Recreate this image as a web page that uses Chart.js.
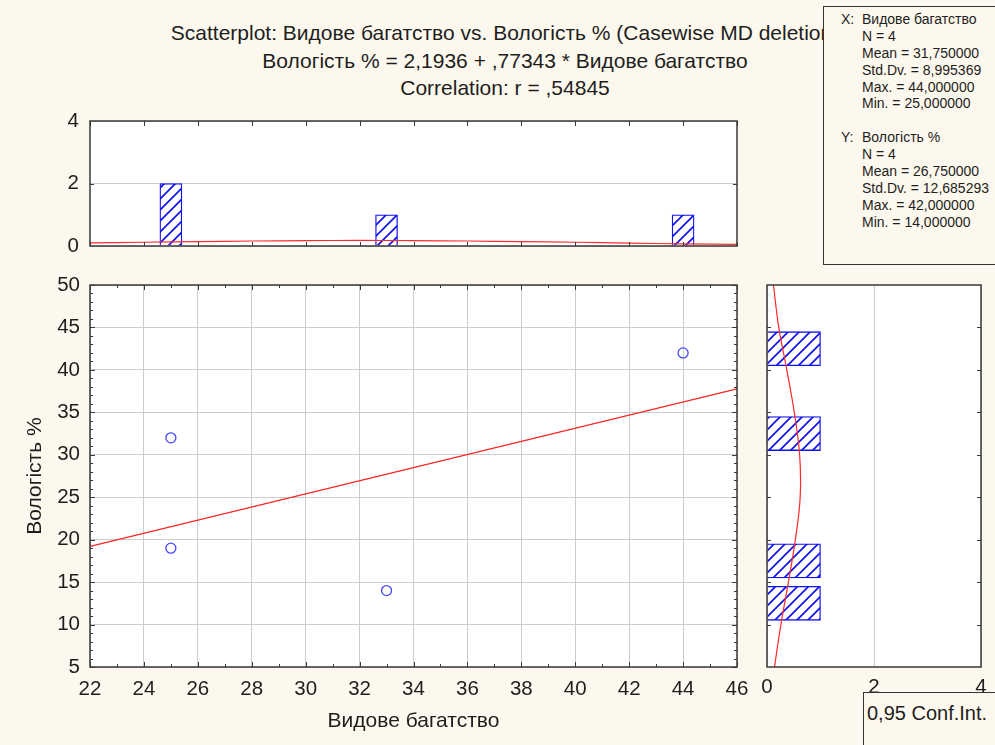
<!DOCTYPE html>
<html>
<head>
<meta charset="utf-8">
<script src="https://cdn.jsdelivr.net/npm/chart.js@4.4.1/dist/chart.umd.min.js"></script>
<style>
  html, body { margin: 0; padding: 0; width: 995px; height: 745px; overflow: hidden; background: #FCF8ED;
    font-family: "Liberation Sans", Arial, sans-serif; color: #1e1e1e; }
  canvas, .abs { position: absolute; }
  #title { left: 105px; width: 800px; top: 19px; text-align: center; font-size: 21px; line-height: 27.5px; white-space: nowrap; }
  #stats { left: 823px; top: 6px; width: 190px; height: 259px; border: 1px solid #333; background: #FCF8ED;
    font-size: 14px; line-height: 16.9px; padding-top: 4px; box-sizing: border-box; white-space: nowrap; }
  #stats .row { position: relative; height: 16.9px; padding-left: 38px; }
  #stats .k { position: absolute; left: 17px; }
  #ci { left: 863px; top: 692px; width: 160px; height: 80px; border: 1px solid #333; background: #FCF8ED;
    font-size: 20px; padding: 9px 0 0 3px; box-sizing: border-box; white-space: nowrap; }
</style>
</head>
<body>
<canvas id="top" width="760" height="150" style="left:0;top:106px"></canvas>
<canvas id="main" width="760" height="475" style="left:0;top:270px"></canvas>
<canvas id="side" width="255" height="475" style="left:740px;top:270px"></canvas>
<div id="title" class="abs"></div>
<div id="stats" class="abs"></div>
<div id="ci" class="abs">0,95 Conf.Int.</div>
<script>
// Raw observations
const speciesRichness = [25, 25, 33, 44];   // Видове багатство
const moisture = [32, 19, 14, 42];          // Вологість %

// Fitted line as stated in the subtitle
const intercept = 2.1936;
const slope = 0.77343;

// Marginal histogram of X (bin width 1)
const xBinCenters = [25, 33, 44];
const xBinCounts = [2, 1, 1];
// Marginal histogram of Y (bin width 5)
const yBinCenters = [12.5, 17.5, 32.5, 42.5];
const yBinCounts = [1, 1, 1, 1];

// Expected-count curves over the histograms
const xCurveAt = [22, 24, 26, 28, 30, 32, 34, 36, 38, 40, 42, 44, 46];
const xCurveCount = [0.10, 0.12, 0.14, 0.16, 0.17, 0.18, 0.17, 0.16, 0.14, 0.12, 0.09, 0.07, 0.05];
const yCurveAt = [5, 10, 15, 20, 25, 30, 35, 40, 45, 50];
const yCurveCount = [0.14, 0.26, 0.40, 0.53, 0.62, 0.61, 0.51, 0.37, 0.22, 0.12];

// Axis ranges / tick steps
const xRange = [22, 46], xStep = 2;
const yRange = [5, 50], yStep = 5;
const xHistRange = [0, 4], histStep = 2;

// Text blocks
const titleLines = [
  'Scatterplot: Видове багатство vs. Вологість % (Casewise MD deletion)',
  'Вологість % = 2,1936 + ,77343 * Видове багатство',
  'Correlation: r = ,54845'
];
const xLabel = 'Видове багатство';
const yLabel = 'Вологість %';
const statsX = ['N = 4', 'Mean = 31,750000', 'Std.Dv. = 8,995369', 'Max. = 44,000000', 'Min. = 25,000000'];
const statsY = ['N = 4', 'Mean = 26,750000', 'Std.Dv. = 12,685293', 'Max. = 42,000000', 'Min. = 14,000000'];

// ---- text blocks ----
document.getElementById('title').innerHTML = titleLines.map(t => '<div>' + t + '</div>').join('');
(function () {
  const box = document.getElementById('stats');
  const row = (k, v) => '<div class="row">' + (k ? '<span class="k">' + k + '</span>' : '') + v + '</div>';
  let html = row('X:', xLabel);
  statsX.forEach(s => html += row('', s));
  html += row('', '');
  html += row('Y:', yLabel);
  statsY.forEach(s => html += row('', s));
  box.innerHTML = html;
})();

// ---- chart defaults ----
Chart.defaults.font.family = '"Liberation Sans", Arial, sans-serif';
Chart.defaults.font.size = 20.5;
Chart.defaults.color = '#1e1e1e';
Chart.defaults.animation = false;
Chart.defaults.responsive = false;
Chart.defaults.plugins.legend.display = false;
Chart.defaults.plugins.tooltip.enabled = false;

const GRID = '#CCCCCC';
const FRAME = '#383838';
const TITLE_FONT = { size: 21 };

// Fixed-size axis boxes so each plot area sits exactly where the layout needs it
const fixWidth = w => s => { s.width = w; s.paddingTop = 0; s.paddingBottom = 0; s.paddingLeft = 0; s.paddingRight = 0; };
const fixHeight = h => s => { s.height = h; s.paddingTop = 0; s.paddingBottom = 0; s.paddingLeft = 0; s.paddingRight = 0; };

// Diagonal hatch fill for histogram bars
const hatchTile = document.createElement('canvas');
hatchTile.width = 11; hatchTile.height = 11;
(function () {
  const g = hatchTile.getContext('2d');
  g.fillStyle = '#ffffff'; g.fillRect(0, 0, 11, 11);
  g.strokeStyle = '#1212EE'; g.lineWidth = 1.7;
  g.beginPath();
  g.moveTo(-1, 12); g.lineTo(12, -1);
  g.moveTo(-6, 6); g.lineTo(6, -6);
  g.moveTo(5, 17); g.lineTo(17, 5);
  g.stroke();
})();
const hatchFor = id => document.getElementById(id).getContext('2d').createPattern(hatchTile, 'repeat');

// Frame around the plot area plus inward tick marks
const frameTicks = {
  id: 'frameTicks',
  afterDatasetsDraw(chart, args, opts) {
    const { ctx, chartArea: a, scales } = chart;
    ctx.save();
    ctx.strokeStyle = FRAME;
    ctx.lineWidth = 1;
    for (const m of (opts.marks || [])) {
      const sc = scales[m.axis];
      for (let v = m.from; v <= m.to + 1e-9; v += m.step) {
        const p = Math.round(sc.getPixelForValue(v)) + 0.5;
        const len = m.major && Math.abs((v - m.from) % m.major) < 1e-9 ? m.len + 2 : m.len;
        ctx.beginPath();
        if (m.side === 'bottom') { ctx.moveTo(p, a.bottom); ctx.lineTo(p, a.bottom - len); }
        if (m.side === 'top') { ctx.moveTo(p, a.top); ctx.lineTo(p, a.top + len); }
        if (m.side === 'left') { ctx.moveTo(a.left, p); ctx.lineTo(a.left + len, p); }
        if (m.side === 'right') { ctx.moveTo(a.right, p); ctx.lineTo(a.right - len, p); }
        ctx.stroke();
      }
    }
    ctx.lineWidth = 1.5;
    ctx.strokeRect(a.left, a.top, a.right - a.left, a.bottom - a.top);
    ctx.restore();
  }
};

const whiteArea = {
  id: 'whiteArea',
  beforeDraw(chart) {
    const { ctx, chartArea: a } = chart;
    ctx.save(); ctx.fillStyle = '#ffffff';
    ctx.fillRect(a.left, a.top, a.right - a.left, a.bottom - a.top);
    ctx.restore();
  }
};

// ---- top histogram (X marginal) ----
new Chart(document.getElementById('top'), {
  type: 'bar',
  data: {
    datasets: [
      { type: 'line', data: xCurveAt.map((x, i) => ({ x, y: xCurveCount[i] })), borderColor: '#FF2A2A',
        borderWidth: 1.2, pointRadius: 0, tension: 0.4 },
      { type: 'bar', data: xBinCenters.map((x, i) => ({ x, y: xBinCounts[i] })), backgroundColor: hatchFor('top'),
        borderColor: '#1010F5', borderWidth: 1.3, barThickness: 22 }
    ]
  },
  options: {
    layout: { padding: { left: 0, top: 15, right: 23, bottom: 0 } },
    scales: {
      x: { type: 'linear', min: xRange[0], max: xRange[1], offset: false,
        ticks: { display: false }, grid: { display: false }, border: { display: false },
        afterFit: fixHeight(10) },
      y: { min: xHistRange[0], max: xHistRange[1], ticks: { stepSize: histStep, padding: 11 },
        grid: { color: GRID, drawTicks: false }, border: { display: false },
        afterFit: fixWidth(90) }
    },
    plugins: {
      frameTicks: { marks: [
        { axis: 'x', side: 'top', from: xRange[0], to: xRange[1], step: xStep, len: 5 },
        { axis: 'x', side: 'bottom', from: xRange[0], to: xRange[1], step: xStep, len: 4 },
        { axis: 'y', side: 'left', from: 2, to: 2, step: 2, len: 4 },
        { axis: 'y', side: 'right', from: 2, to: 2, step: 2, len: 4 }
      ] }
    }
  },
  plugins: [whiteArea, frameTicks]
});

// ---- main scatterplot ----
new Chart(document.getElementById('main'), {
  type: 'scatter',
  data: {
    datasets: [
      { data: speciesRichness.map((x, i) => ({ x, y: moisture[i] })), pointRadius: 5,
        pointBorderColor: '#4646FF', pointBackgroundColor: 'rgba(0,0,0,0)', pointBorderWidth: 1.3 },
      { type: 'line', data: xRange.map(x => ({ x, y: intercept + slope * x })),
        borderColor: '#FF2020', borderWidth: 1.2, pointRadius: 0 }
    ]
  },
  options: {
    layout: { padding: { left: 0, top: 15, right: 23, bottom: 0 } },
    scales: {
      x: { type: 'linear', min: xRange[0], max: xRange[1],
        ticks: { stepSize: xStep, padding: 10, maxRotation: 0, autoSkip: false },
        grid: { color: GRID, drawTicks: false }, border: { display: false },
        title: { display: true, text: xLabel, font: TITLE_FONT, padding: { top: 0, bottom: 11 } },
        afterFit: fixHeight(78) },
      y: { min: yRange[0], max: yRange[1],
        ticks: { stepSize: yStep, padding: 10 },
        grid: { color: GRID, drawTicks: false }, border: { display: false },
        title: { display: true, text: yLabel, font: TITLE_FONT, padding: { top: 23, bottom: 0 } },
        afterFit: fixWidth(90) }
    },
    plugins: {
      frameTicks: { marks: [
        { axis: 'x', side: 'bottom', from: xRange[0], to: xRange[1], step: 1, len: 3, major: 2 },
        { axis: 'x', side: 'top', from: xRange[0], to: xRange[1], step: 1, len: 3, major: 2 },
        { axis: 'y', side: 'left', from: yRange[0], to: yRange[1], step: 1, len: 3, major: 5 },
        { axis: 'y', side: 'right', from: yRange[0], to: yRange[1], step: 1, len: 3, major: 5 }
      ] }
    }
  },
  plugins: [whiteArea, frameTicks]
});

// ---- side histogram (Y marginal) ----
new Chart(document.getElementById('side'), {
  type: 'bar',
  data: {
    datasets: [
      { type: 'line', indexAxis: 'y', data: yCurveAt.map((y, i) => ({ x: yCurveCount[i], y })),
        borderColor: '#FF2A2A', borderWidth: 1.2, pointRadius: 0, tension: 0.4 },
      { type: 'bar', indexAxis: 'y', data: yBinCenters.map((y, i) => ({ x: yBinCounts[i], y })),
        backgroundColor: hatchFor('side'), borderColor: '#1010F5', borderWidth: 1.3, barThickness: 34 }
    ]
  },
  options: {
    indexAxis: 'y',
    layout: { padding: { left: 0, top: 15, right: 14, bottom: 0 } },
    scales: {
      x: { type: 'linear', min: xHistRange[0], max: xHistRange[1],
        ticks: { stepSize: histStep, padding: 8, maxRotation: 0 },
        grid: { color: GRID, drawTicks: false }, border: { display: false },
        afterFit: fixHeight(78) },
      y: { type: 'linear', min: yRange[0], max: yRange[1], offset: false,
        ticks: { display: false }, grid: { display: false }, border: { display: false },
        afterFit: fixWidth(27) }
    },
    plugins: {
      frameTicks: { marks: [
        { axis: 'y', side: 'left', from: 10, to: 45, step: yStep, len: 4 },
        { axis: 'y', side: 'right', from: 10, to: 45, step: yStep, len: 4 }
      ] }
    }
  },
  plugins: [whiteArea, frameTicks]
});
</script>
</body>
</html>
